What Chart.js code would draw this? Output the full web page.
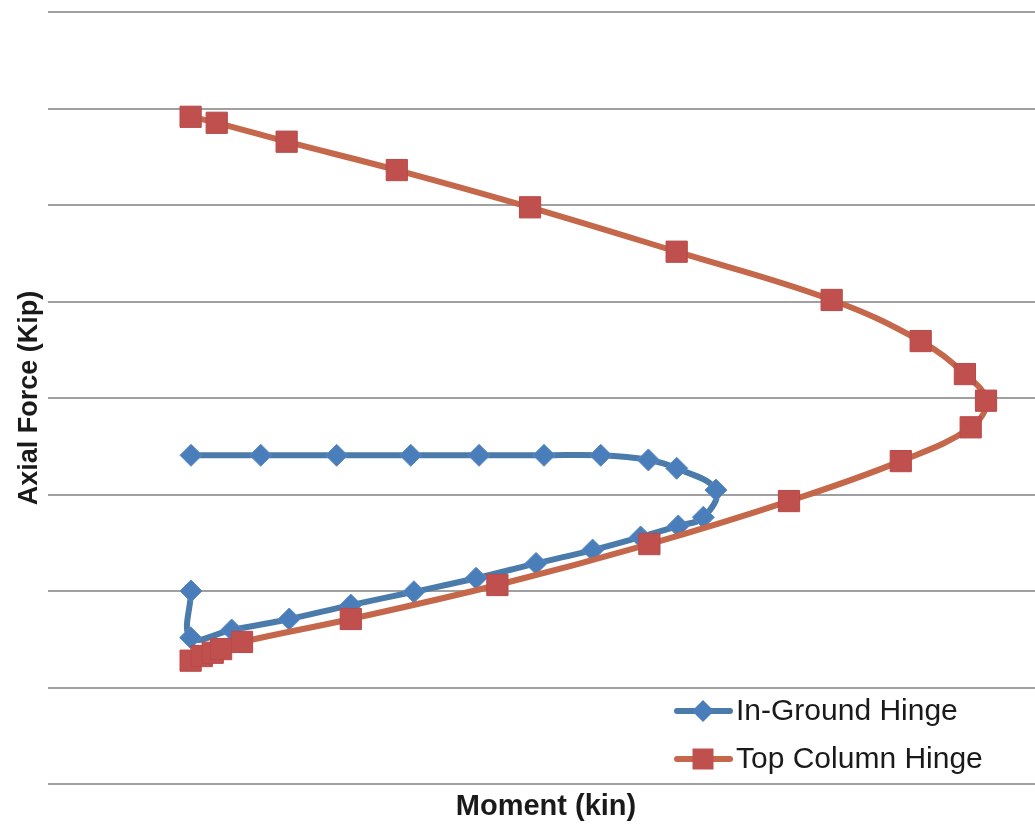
<!DOCTYPE html>
<html>
<head>
<meta charset="utf-8">
<title>Axial Force vs Moment</title>
<script src="https://cdn.jsdelivr.net/npm/chart.js@4.4.1/dist/chart.umd.min.js"></script>
<style>
  html, body { margin: 0; padding: 0; background: #ffffff; overflow: hidden; }
  #wrap { width: 1035px; height: 826px; overflow: hidden; }
  canvas { display: block; }
</style>
</head>
<body>
<div id="wrap"><canvas id="chart" width="1045" height="826"></canvas></div>
<script>
// Interaction curve points, Moment (kin) and Axial Force (Kip)
const seriesNames = ['In-Ground Hinge', 'Top Column Hinge'];

const groundMoment = [7180, 10680, 14490, 18210, 21640, 24900, 27750, 30140, 31560, 33530,
                      32900, 31640, 29750, 27340, 24500, 21490, 18370, 15200, 12110, 9220, 7160, 7180];
const groundAxial  = [703, 703, 703, 703, 703, 703, 703, 679, 636, 523,
                      382, 337, 280, 212, 143, 66, -4, -73, -145, -202, -242, 0];

const topMoment = [7160, 7720, 8270, 8690, 9740, 15200, 22560, 30190, 37200, 42810,
                   46320, 47090, 46030, 43810, 39340, 31560, 24200, 17510, 11980, 8470, 7160];
const topAxial  = [-361, -337, -320, -301, -264, -145, 31, 243, 466, 673,
                   848, 986, 1124, 1295, 1508, 1758, 1988, 2181, 2328, 2426, 2457];

// Axial force grid every 500 Kip
const axialMin = -1000, axialMax = 3000, axialStep = 500;
const momentMin = 0, momentMax = 50000;

const toPoints = (xs, ys) => xs.map((x, i) => ({ x: x, y: ys[i] }));

const blueLine = '#4B7BAB', blueMark = '#4A7EBB';
const redLine = '#C4674A', redMark = '#C0504D';

// Legend box drawn inside the lower right of the plot
const legendPlugin = {
  id: 'cornerLegend',
  afterDraw(chart) {
    const ctx = chart.ctx;
    const items = [
      { text: seriesNames[0], line: blueLine, mark: blueMark, style: 'diamond', y: 711 },
      { text: seriesNames[1], line: redLine, mark: redMark, style: 'square', y: 759 }
    ];
    ctx.save();
    items.forEach(it => {
      ctx.strokeStyle = it.line;
      ctx.lineWidth = 6;
      ctx.lineCap = 'round';
      ctx.beginPath();
      ctx.moveTo(677, it.y);
      ctx.lineTo(730, it.y);
      ctx.stroke();
      ctx.fillStyle = it.mark;
      ctx.beginPath();
      const cx = 703;
      if (it.style === 'diamond') {
        ctx.moveTo(cx, it.y - 11);
        ctx.lineTo(cx + 11, it.y);
        ctx.lineTo(cx, it.y + 11);
        ctx.lineTo(cx - 11, it.y);
        ctx.closePath();
      } else {
        ctx.rect(cx - 10.5, it.y - 10.5, 21, 21);
      }
      ctx.fill();
      ctx.fillStyle = '#1a1a1a';
      ctx.font = '30px "Liberation Sans", Arial, sans-serif';
      ctx.textBaseline = 'middle';
      ctx.textAlign = 'left';
      ctx.fillText(it.text, 736, it.y + 1);
    });
    ctx.restore();
  }
};

new Chart(document.getElementById('chart'), {
  type: 'scatter',
  data: {
    datasets: [
      {
        label: seriesNames[1],
        data: toPoints(topMoment, topAxial),
        showLine: true,
        tension: 0.4,
        borderColor: redLine,
        borderWidth: 6,
        borderCapStyle: 'round',
        borderJoinStyle: 'round',
        pointStyle: 'rect',
        pointRadius: 15,
        pointBackgroundColor: redMark,
        pointBorderColor: '#B9494A',
        pointBorderWidth: 1
      },
      {
        label: seriesNames[0],
        data: toPoints(groundMoment, groundAxial),
        showLine: true,
        tension: 0.4,
        borderColor: blueLine,
        borderWidth: 6,
        borderCapStyle: 'round',
        borderJoinStyle: 'round',
        pointStyle: 'rectRot',
        pointRadius: 11,
        pointBackgroundColor: blueMark,
        pointBorderColor: '#5A8AC4',
        pointBorderWidth: 1
      }
    ]
  },
  options: {
    responsive: false,
    animation: false,
    devicePixelRatio: 1,
    // the canvas is a little wider than the page, so the plot runs past the right edge
    layout: { autoPadding: false, padding: { left: 0, right: 1, top: 12, bottom: 0 } },
    plugins: {
      legend: { display: false },
      tooltip: { enabled: false }
    },
    scales: {
      x: {
        type: 'linear',
        min: momentMin,
        max: momentMax,
        grid: { display: false, drawTicks: false },
        border: { display: false },
        ticks: { display: false },
        title: {
          display: true,
          text: 'Moment (kin)',
          color: '#1a1a1a',
          font: { family: '"Liberation Sans", Arial, sans-serif', size: 29, weight: 'bold' },
          padding: { top: 5.6, bottom: 1.6 }
        }
      },
      y: {
        type: 'linear',
        min: axialMin,
        max: axialMax,
        grid: { color: '#A0A0A0', lineWidth: 2, drawTicks: false },
        border: { display: false },
        ticks: { display: false, stepSize: axialStep },
        title: {
          display: true,
          text: 'Axial Force (Kip)',
          color: '#1a1a1a',
          font: { family: '"Liberation Sans", Arial, sans-serif', size: 27, weight: 'bold' },
          padding: { top: 13.8, bottom: 1.8 }
        }
      }
    }
  },
  plugins: [legendPlugin]
});
</script>
</body>
</html>
